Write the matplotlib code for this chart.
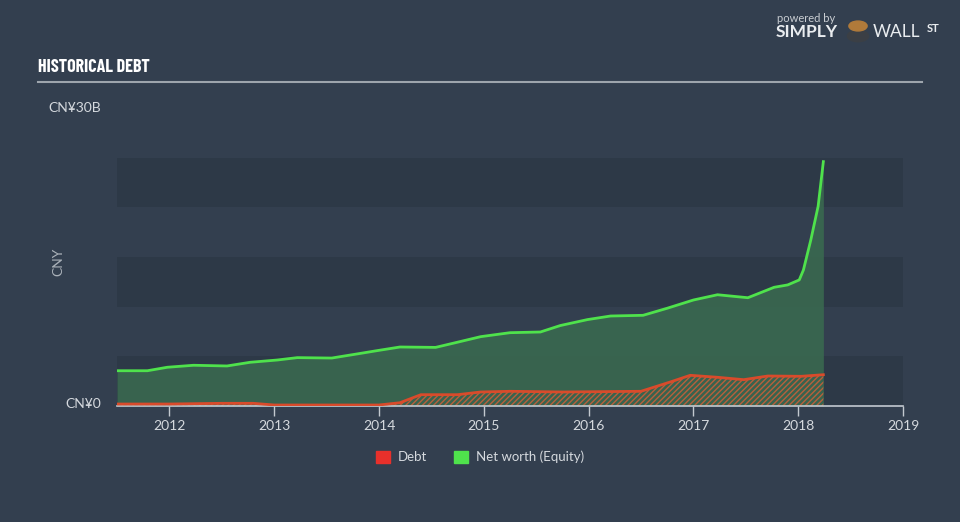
import matplotlib
matplotlib.use("Agg")
import matplotlib.pyplot as plt
from matplotlib.patches import Patch

# quarterly-ish points (fractional year, CNY billions)
eq_dates = [2011.50, 2011.79, 2011.98, 2012.23, 2012.55, 2012.77, 2013.03, 2013.22,
            2013.55, 2013.79, 2013.98, 2014.20, 2014.54, 2014.78, 2014.97, 2015.25,
            2015.54, 2015.73, 2015.99, 2016.21, 2016.52, 2016.75, 2017.00, 2017.23,
            2017.52, 2017.77, 2017.90, 2018.01, 2018.05, 2018.12, 2018.19, 2018.24]
equity = [3.55, 3.55, 3.9, 4.1, 4.03, 4.4, 4.63, 4.87,
          4.83, 5.24, 5.57, 5.94, 5.9, 6.5, 6.98, 7.38,
          7.45, 8.1, 8.7, 9.06, 9.13, 9.84, 10.67, 11.2,
          10.9, 11.95, 12.19, 12.69, 13.7, 16.7, 20.1, 24.6]

debt_dates = [2011.50, 2012.00, 2012.50, 2012.80, 2013.00, 2013.50, 2014.00, 2014.20,
              2014.40, 2014.75, 2014.97, 2015.25, 2015.75, 2016.50, 2016.78, 2016.97,
              2017.23, 2017.48, 2017.71, 2018.03, 2018.24]
debt = [0.2, 0.2, 0.27, 0.27, 0.1, 0.1, 0.1, 0.33,
        1.14, 1.14, 1.41, 1.48, 1.41, 1.48, 2.42, 3.09,
        2.89, 2.65, 3.02, 2.99, 3.15]

years = [2012, 2013, 2014, 2015, 2016, 2017, 2018, 2019]

BG = "#333f4f"
BAND = "#2d3947"
GREEN = "#4fe24c"
RED = "#d94b2b"
TXT = "#d5d9de"

fig = plt.figure(figsize=(9.6, 5.22), dpi=100, facecolor=BG)
ax = fig.add_axes([117/960, 116/522, 786/960, 298/522])
ax.set_facecolor("none")

# alternating horizontal bands
for lo in (0, 10, 20):
    ax.axhspan(lo, lo + 5, color=BAND, zorder=0, lw=0)

ax.fill_between(eq_dates, equity, 0, color="#3a6b50", alpha=0.85, lw=0, zorder=1)
ax.plot(eq_dates, equity, color=GREEN, lw=2, zorder=3)

plt.rcParams["hatch.linewidth"] = 1.0
ax.fill_between(debt_dates, debt, 0, facecolor="none", edgecolor="#b8603c",
                hatch="//////", lw=0, zorder=2)
ax.plot(debt_dates, debt, color=RED, lw=2, zorder=3)

ax.set_xlim(2011.5, 2019)
ax.set_ylim(0, 30)
ax.set_xticks(years)
ax.set_xticklabels([str(y) for y in years])
ax.set_yticks([])
for s in ("top", "right", "left"):
    ax.spines[s].set_visible(False)
ax.spines["bottom"].set_color("#c3c9d0")
ax.spines["bottom"].set_linewidth(1.2)
ax.tick_params(axis="x", colors="#c3c9d0", length=7, width=1, labelcolor=TXT,
               labelsize=10, pad=3)
for lab in ax.get_xticklabels():
    lab.set_fontfamily("Lato")

fig.text(101/960, 1 - 108/522, "CN¥30B", color=TXT, fontsize=10, family="Lato",
         ha="right", va="center")
fig.text(101/960, 1 - 404/522, "CN¥0", color=TXT, fontsize=10, family="Lato",
         ha="right", va="center")
fig.text(58/960, 1 - 262/522, "CNY", color="#aab1b9", fontsize=10, family="Lato",
         ha="center", va="center", rotation=90)

# title and rule
fig.text(38/960, 1 - 68/522, "HISTORICAL DEBT", color="white", fontsize=13,
         family=["Barlow Condensed", "DejaVu Sans"], weight="bold", va="center")
fig.add_artist(plt.Line2D([38/960, 922/960], [1 - 82/522, 1 - 82/522],
                          color="#9ea5ad", lw=1.5))

# branding
fig.text(777/960, 1 - 18/522, "powered by", color="#c9cdd2", fontsize=8,
         family="Lato", va="center")
fig.text(776/960, 1 - 32/522, "SIMPLY", color="#e9ecef", fontsize=12.5,
         family="Lato", weight="bold", va="center")
fig.text(873/960, 1 - 32/522, "WALL", color="#e9ecef", fontsize=12.5,
         family="Lato", va="center")
fig.text(927/960, 1 - 28/522, "ST", color="#e9ecef", fontsize=8,
         family="Lato", weight="bold", va="center")
fig.add_artist(plt.Circle((858/960, 1 - 36/522), 0.011, transform=fig.transFigure,
                          color="#3b3f45"))
fig.add_artist(plt.Circle((858/960, 1 - 26/522), 0.0095, transform=fig.transFigure,
                          color="#b07a3a"))

handles = [Patch(color="#e8302b", label="Debt"),
           Patch(color="#4fe24c", label="Net worth (Equity)")]
leg = fig.legend(handles=handles, loc="center", bbox_to_anchor=(480/960, 1 - 457/522),
                 ncol=2, frameon=False, fontsize=9.5, handlelength=1.1,
                 handleheight=1.1, columnspacing=2.0, handletextpad=0.6)
for t in leg.get_texts():
    t.set_color(TXT)
    t.set_fontfamily("Lato")

fig.savefig("out.png", dpi=100, facecolor=BG)
